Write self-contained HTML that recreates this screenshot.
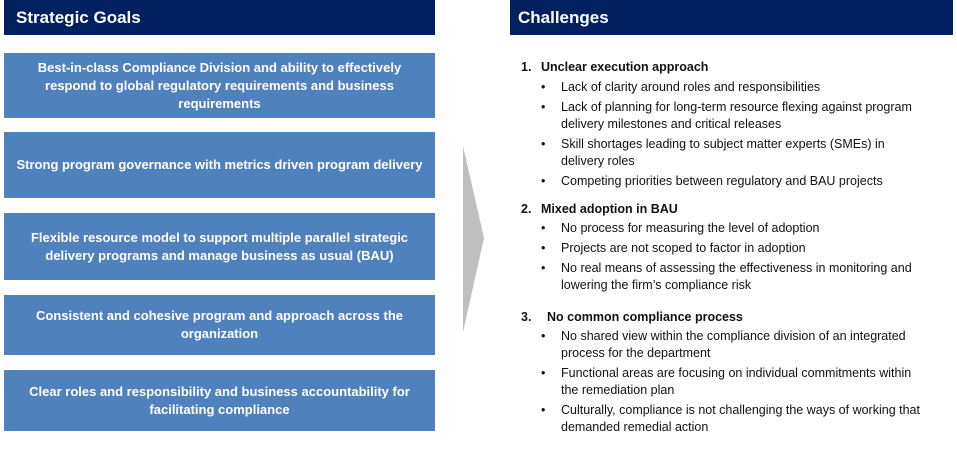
<!DOCTYPE html>
<html><head><style>
body{margin:0;width:957px;height:457px;background:#fff;position:relative;font-family:"Liberation Sans",sans-serif;overflow:hidden}
.h{position:absolute;top:0;height:35px;background:#002060;color:#fff;font-weight:bold;font-size:17px;line-height:35px;box-sizing:border-box;padding-left:12px}
.b{position:absolute;left:4px;width:431px;background:#4f81bd;color:#fff;font-weight:bold;font-size:13px;line-height:18px;text-align:center;display:flex;align-items:center;justify-content:center;padding:0 4px;box-sizing:border-box;white-space:nowrap}
.t{position:absolute;font-size:12.5px;color:#111;white-space:nowrap;line-height:14px}
.n{font-weight:bold}
</style></head><body>
<div class="h" style="left:4px;width:431px">Strategic Goals</div>
<div class="h" style="left:510px;width:443px;padding-left:8px">Challenges</div>
<div class="b" style="top:53px;height:65px">Best-in-class Compliance Division and ability to effectively<br>respond to global regulatory requirements and business<br>requirements</div>
<div class="b" style="top:132px;height:66px">Strong program governance with metrics driven program delivery</div>
<div class="b" style="top:213px;height:67px">Flexible resource model to support multiple parallel strategic<br>delivery programs and manage business as usual (BAU)</div>
<div class="b" style="top:295px;height:60px">Consistent and cohesive program and approach across the<br>organization</div>
<div class="b" style="top:370px;height:61px">Clear roles and responsibility and business accountability for<br>facilitating compliance</div>
<svg style="position:absolute;left:0;top:0" width="957" height="457"><polygon points="463,146 484,238 463,332" fill="#bfbfbf"/></svg>
<div class="t n" style="left:521px;top:60px">1.</div><div class="t n" style="left:541px;top:60px">Unclear execution approach</div>
<div class="t" style="left:541px;top:80px">•</div><div class="t" style="left:561px;top:80px">Lack of clarity around roles and responsibilities</div>
<div class="t" style="left:541px;top:100px">•</div><div class="t" style="left:561px;top:100px">Lack of planning for long-term resource flexing against program</div>
<div class="t" style="left:561px;top:117px">delivery milestones and critical releases</div>
<div class="t" style="left:541px;top:137px">•</div><div class="t" style="left:561px;top:137px">Skill shortages leading to subject matter experts (SMEs) in</div>
<div class="t" style="left:561px;top:154px">delivery roles</div>
<div class="t" style="left:541px;top:174px">•</div><div class="t" style="left:561px;top:174px">Competing priorities between regulatory and BAU projects</div>
<div class="t n" style="left:521px;top:202px">2.</div><div class="t n" style="left:541px;top:202px">Mixed adoption in BAU</div>
<div class="t" style="left:541px;top:221px">•</div><div class="t" style="left:561px;top:221px">No process for measuring the level of adoption</div>
<div class="t" style="left:541px;top:241px">•</div><div class="t" style="left:561px;top:241px">Projects are not scoped to factor in adoption</div>
<div class="t" style="left:541px;top:261px">•</div><div class="t" style="left:561px;top:261px">No real means of assessing the effectiveness in monitoring and</div>
<div class="t" style="left:561px;top:278px">lowering the firm’s compliance risk</div>
<div class="t n" style="left:521px;top:310px">3.</div><div class="t n" style="left:547px;top:310px">No common compliance process</div>
<div class="t" style="left:541px;top:329px">•</div><div class="t" style="left:561px;top:329px">No shared view within the compliance division of an integrated</div>
<div class="t" style="left:561px;top:346px">process for the department</div>
<div class="t" style="left:541px;top:366px">•</div><div class="t" style="left:561px;top:366px">Functional areas are focusing on individual commitments within</div>
<div class="t" style="left:561px;top:383px">the remediation plan</div>
<div class="t" style="left:541px;top:403px">•</div><div class="t" style="left:561px;top:403px">Culturally, compliance is not challenging the ways of working that</div>
<div class="t" style="left:561px;top:420px">demanded remedial action</div>
</body></html>
